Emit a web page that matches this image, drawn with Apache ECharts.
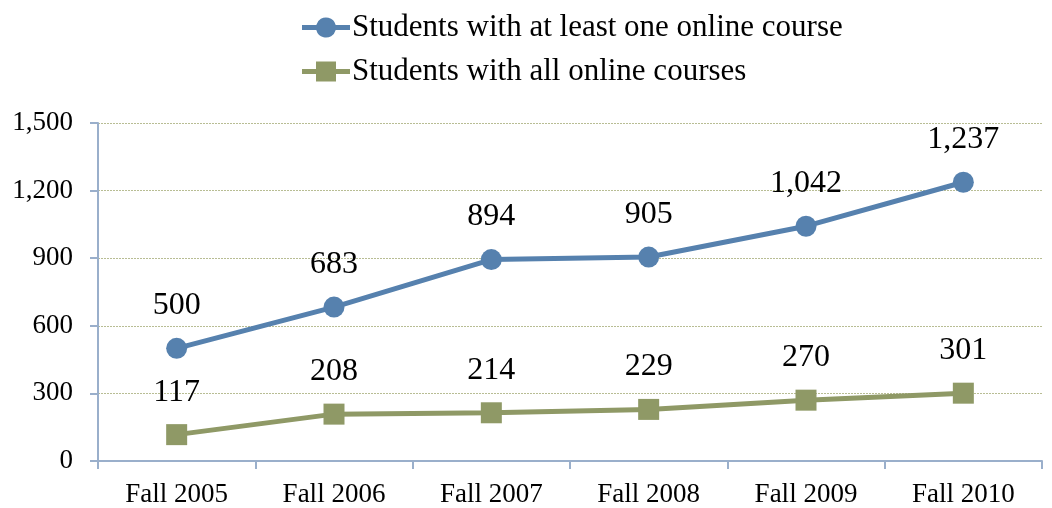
<!DOCTYPE html>
<html><head><meta charset="utf-8">
<script src="https://cdn.jsdelivr.net/npm/echarts@6/dist/echarts.min.js"></script>
<style>html,body{margin:0;padding:0;background:#fff}#c{width:1052px;height:508px}</style>
</head><body><div id="c"></div>
<script>
const categories = ['Fall 2005','Fall 2006','Fall 2007','Fall 2008','Fall 2009','Fall 2010'];
const atLeastOne = [500, 683, 894, 905, 1042, 1237];
const allOnline = [117, 208, 214, 229, 270, 301];
const seriesNames = ['Students with at least one online course','Students with all online courses'];
const yTicks = {min: 0, max: 1500, interval: 300};

const font = 'Liberation Serif';
const fmt = v => v.toLocaleString('en-US');
const chart = echarts.init(document.getElementById('c'));
chart.setOption({
  animation: false,
  textStyle: {fontFamily: font},
  legend: {
    orient: 'vertical', left: 297, top: 7, itemGap: 13,
    itemWidth: 48, itemHeight: 22,
    textStyle: {fontFamily: font, fontSize: 31, color: '#000', padding: [0,0,0,-3]},
    data: [
      {name: seriesNames[0], icon: 'path://M0,7.5 H14.3 A10,10 0 0 1 33.7,7.5 H48 V12.5 H33.7 A10,10 0 0 1 14.3,12.5 H0 Z'},
      {name: seriesNames[1], icon: 'path://M0,7.5 H14 V0 H34 V7.5 H48 V12.5 H34 V20 H14 V12.5 H0 Z'}
    ]
  },
  grid: {left: 98, right: 10, top: 123, bottom: 46},
  xAxis: {
    type: 'category', data: categories, boundaryGap: true,
    axisLine: {lineStyle: {color: '#9aafcb', width: 2}},
    axisTick: {show: true, length: 8, lineStyle: {color: '#9aafcb', width: 2}},
    axisLabel: {fontFamily: font, fontSize: 27, color: '#000', margin: 20}
  },
  yAxis: {
    type: 'value', min: yTicks.min, max: yTicks.max, interval: yTicks.interval,
    axisLine: {show: true, lineStyle: {color: '#9aafcb', width: 2}},
    axisTick: {show: true, length: 8, lineStyle: {color: '#9aafcb', width: 2}},
    axisLabel: {fontFamily: font, fontSize: 27, color: '#000', margin: 25, formatter: fmt},
    splitLine: {lineStyle: {color: '#b8bd94', type: [2,1], width: 1}}
  },
  series: [
    {
      name: seriesNames[0], type: 'line', data: atLeastOne,
      symbol: 'circle', symbolSize: 21,
      lineStyle: {color: '#5681ae', width: 5},
      itemStyle: {color: '#5681ae'},
      label: {show: true, position: 'top', distance: 16, fontFamily: font, fontSize: 32, color: '#000', formatter: p => fmt(p.value)}
    },
    {
      name: seriesNames[1], type: 'line', data: allOnline,
      symbol: 'rect', symbolSize: 21,
      lineStyle: {color: '#8f9966', width: 5},
      itemStyle: {color: '#8f9966'},
      label: {show: true, position: 'top', distance: 16, fontFamily: font, fontSize: 32, color: '#000', formatter: p => fmt(p.value)}
    }
  ]
});
</script></body></html>
